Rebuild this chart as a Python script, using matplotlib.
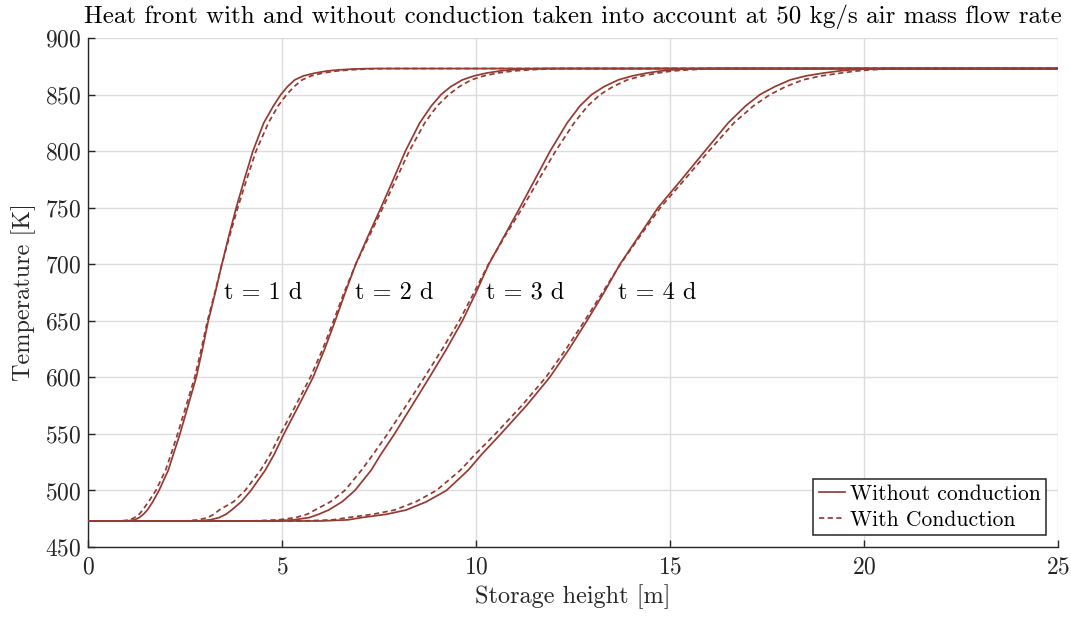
import matplotlib
matplotlib.use("Agg")
import matplotlib.pyplot as plt

plt.rcParams['font.family'] = ['cmr10', 'DejaVu Serif']
plt.rcParams['mathtext.fontset'] = 'cm'
plt.rcParams['axes.formatter.use_mathtext'] = True
plt.rcParams['axes.unicode_minus'] = False

# ---- data: temperature levels [K] shared by all curves, storage height [m] per curve ----
T_levels = [473, 473, 474, 476, 479, 482.7, 490, 500, 518, 532, 550, 575, 600, 625, 650, 675, 700,
            725, 750, 775, 800, 825, 840, 850, 857, 863, 866.5, 869, 870.8, 871.8, 872.6, 873, 873]

x1_solid = [0, 1.0, 1.2, 1.32, 1.43, 1.53, 1.67, 1.83, 2.07, 2.2, 2.37, 2.58, 2.79, 2.95, 3.10, 3.28, 3.45,
            3.63, 3.82, 4.03, 4.25, 4.53, 4.78, 4.97, 5.14, 5.33, 5.55, 5.85, 6.15, 6.45, 6.85, 7.3, 25]
x1_dash = [0, 0.85, 1.08, 1.2, 1.32, 1.41, 1.56, 1.75, 2.0, 2.14, 2.31, 2.53, 2.75, 2.92, 3.08, 3.27, 3.45,
           3.65, 3.86, 4.09, 4.33, 4.65, 4.9, 5.12, 5.31, 5.52, 5.75, 6.05, 6.4, 6.75, 7.2, 7.7, 25]

x2_solid = [0, 2.8, 3.15, 3.38, 3.56, 3.7, 3.95, 4.2, 4.57, 4.8, 5.05, 5.43, 5.8, 6.1, 6.37, 6.63, 6.9,
            7.22, 7.55, 7.87, 8.18, 8.55, 8.85, 9.1, 9.35, 9.65, 9.95, 10.27, 10.6, 10.88, 11.3, 11.8, 25]
x2_dash = [0, 2.5, 2.85, 3.08, 3.25, 3.38, 3.75, 4.05, 4.45, 4.7, 4.96, 5.35, 5.73, 6.05, 6.33, 6.6, 6.9,
           7.25, 7.6, 7.94, 8.28, 8.68, 9.0, 9.3, 9.57, 9.88, 10.2, 10.55, 10.95, 11.35, 11.8, 12.3, 25]

x3_solid = [0, 4.6, 5.3, 5.7, 5.95, 6.2, 6.55, 6.88, 7.3, 7.55, 7.9, 8.35, 8.8, 9.24, 9.65, 10.0, 10.33,
            10.73, 11.13, 11.52, 11.91, 12.35, 12.68, 12.98, 13.3, 13.67, 14.03, 14.4, 14.75, 15.05, 15.45, 15.9, 25]
x3_dash = [0, 4.2, 4.9, 5.35, 5.65, 5.85, 6.25, 6.62, 7.05, 7.35, 7.72, 8.2, 8.67, 9.13, 9.57, 9.95, 10.32,
           10.75, 11.2, 11.62, 12.05, 12.53, 12.88, 13.2, 13.53, 13.9, 14.28, 14.68, 15.05, 15.45, 15.9, 16.4, 25]

x4_solid = [0, 6.0, 6.7, 7.05, 7.7, 8.2, 8.72, 9.24, 9.8, 10.15, 10.64, 11.3, 11.9, 12.4, 12.86, 13.3, 13.71,
            14.2, 14.69, 15.3, 15.9, 16.5, 16.95, 17.32, 17.7, 18.1, 18.5, 18.95, 19.35, 19.64, 20.1, 20.7, 25]
x4_dash = [0, 5.5, 6.3, 6.7, 7.35, 7.9, 8.45, 8.98, 9.6, 9.98, 10.5, 11.18, 11.8, 12.32, 12.8, 13.26, 13.72,
           14.23, 14.75, 15.38, 16.0, 16.65, 17.15, 17.58, 17.98, 18.43, 18.9, 19.4, 19.8, 20.15, 20.6, 21.2, 25]

label_text = ['t = 1 d', 't = 2 d', 't = 3 d', 't = 4 d']
label_x = [3.5, 6.88, 10.25, 13.65]
label_T = [675, 675, 675, 675]

x_ticks = [0, 5, 10, 15, 20, 25]
y_ticks = [450, 500, 550, 600, 650, 700, 750, 800, 850, 900]

color = '#963A32'

fig = plt.figure(figsize=(10.71, 6.17), dpi=100)
ax = fig.add_axes([88/1071, 1 - 547/617, (1058-88)/1071, (547-38)/617])

solids = [x1_solid, x2_solid, x3_solid, x4_solid]
dashes = [x1_dash, x2_dash, x3_dash, x4_dash]
for i, xs in enumerate(solids):
    ax.plot(xs, T_levels, color=color, lw=1.25, ls='-', label='Without conduction' if i == 0 else None,
            zorder=3, solid_joinstyle='round')
for i, xs in enumerate(dashes):
    ax.plot(xs, T_levels, color=color, lw=1.25, ls=(0, (3, 2)), label='With Conduction' if i == 0 else None,
            zorder=3)

for t, lx, ly in zip(label_text, label_x, label_T):
    ax.text(lx, ly, t, fontsize=17.5, ha='left', va='center', color='black', zorder=4)

ax.set_xlim(0, 25)
ax.set_ylim(450, 900)
ax.set_xticks(x_ticks)
ax.set_yticks(y_ticks)
ax.grid(True, color='#dcdcdc', lw=1.0)
ax.set_axisbelow(True)
for s in ['top', 'right']:
    ax.spines[s].set_visible(False)
for s in ['left', 'bottom']:
    ax.spines[s].set_color('#262626')
    ax.spines[s].set_linewidth(1.0)
ax.tick_params(direction='in', length=5, width=1.0, colors='#262626', labelsize=17, labelcolor='#262626')
ax.tick_params(axis='x', pad=7)
ax.tick_params(axis='y', pad=5)

ax.set_xlabel('Storage height [m]', fontsize=17.5, color='#262626', labelpad=4)
ax.set_ylabel('Temperature [K]', fontsize=17.5, color='#262626', labelpad=6)
ax.set_title('Heat front with and without conduction taken into account at 50 kg/s air mass flow rate',
             fontsize=18, pad=11)

leg = ax.legend(loc='lower right', fontsize=15.5, frameon=True, fancybox=False, edgecolor='#262626',
                framealpha=1, handlelength=1.2, handletextpad=0.25, borderpad=0.25, labelspacing=0.3,
                borderaxespad=0.55)
leg.get_frame().set_linewidth(1.1)

fig.savefig('out.png', dpi=100)
